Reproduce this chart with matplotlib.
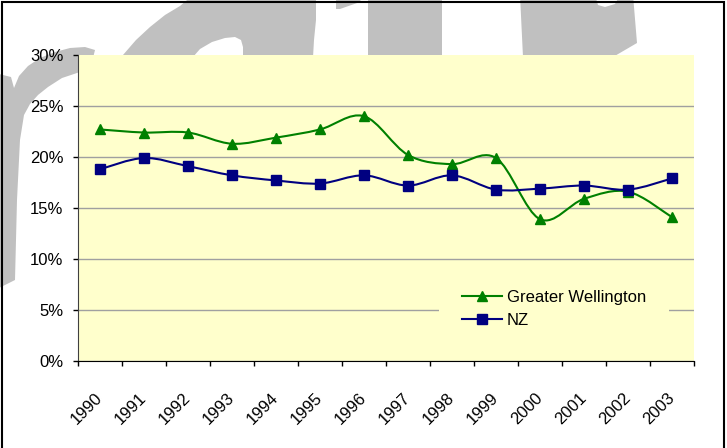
import numpy as np
import matplotlib.pyplot as plt
from matplotlib.path import Path
from matplotlib.patches import PathPatch, Polygon, Rectangle
from matplotlib.lines import Line2D
from matplotlib.transforms import ScaledTranslation

plt.rcParams['font.family'] = ['Liberation Sans', 'DejaVu Sans']

years = [str(y) for y in range(1990, 2004)]
wellington = [22.7, 22.4, 22.4, 21.3, 21.9, 22.7, 24.0, 20.2, 19.3, 19.9, 13.9, 15.9, 16.6, 14.1]
nz = [18.8, 19.9, 19.1, 18.2, 17.7, 17.4, 18.2, 17.2, 18.2, 16.8, 16.9, 17.2, 16.8, 17.9]

GREEN = '#008000'
NAVY = '#000080'
W, H = 727, 448


def smooth_path(x, y):
    # Excel-style smoothed line (Catmull-Rom as cubic Bezier segments)
    pts = np.column_stack([x, y])
    ext = np.vstack([pts[0], pts, pts[-1]])
    verts = [pts[0]]
    codes = [Path.MOVETO]
    for i in range(len(pts) - 1):
        p0, p1, p2, p3 = ext[i], ext[i + 1], ext[i + 2], ext[i + 3]
        verts += [p1 + (p2 - p0) / 6, p2 - (p3 - p1) / 6, p2]
        codes += [Path.CURVE4] * 3
    return Path(verts, codes)


def px(points):
    return [(x / W, 1 - y / H) for x, y in points]


fig = plt.figure(figsize=(W / 100, H / 100), dpi=100)

# grey watermark letters behind the chart
grey = '#C0C0C0'
shapes = [
    [(-5, 290), (15, 280), (17, 200), (20, 140), (24, 115), (30, 104), (38, 95),
     (48, 87), (62, 78), (80, 72), (92, 62), (95, 50), (85, 47), (70, 48),
     (55, 52), (40, 58), (28, 66), (19, 76), (14, 88), (11, 77), (-5, 73)],
    [(100, 75), (112, 65), (123, 55), (136, 40), (150, 27), (165, 15), (180, 6),
     (193, -5), (316, -5), (316, 20), (314, 40), (312, 75)],
    [(336, -5), (362, -5), (360, 2), (340, 9), (336, 9)],
    [(368, -5), (442, -5), (442, 60), (368, 60)],
    [(520, -5), (633, -5), (637, 43), (613, 57), (523, 57)],
]
for s in shapes:
    fig.patches.append(Polygon(px(s), closed=True, transform=fig.transFigure,
                               facecolor=grey, edgecolor='none', zorder=-1))
holes = [
    [(193, 57), (200, 49), (212, 42), (225, 38), (235, 37), (241, 40), (243, 47), (243, 57)],
    [(595, -5), (620, -5), (615, 4), (605, 7), (598, 5)],
]
for s in holes:
    fig.patches.append(Polygon(px(s), closed=True, transform=fig.transFigure,
                               facecolor='white', edgecolor='none', zorder=-1))

fig.patches.append(Rectangle((2 / W, -0.02), 722 / W, 1 - 2 / H + 0.02,
                             transform=fig.transFigure, fill=False,
                             edgecolor='black', lw=1.5, zorder=5))

ax = fig.add_axes([78 / W, 1 - 361 / H, 616 / W, 306 / H])
ax.set_facecolor('#FFFFCC')

x = np.arange(len(years)) + 0.5
ax.add_patch(PathPatch(smooth_path(x, wellington), fill=False, edgecolor=GREEN, lw=1.5, zorder=2))
ax.add_patch(PathPatch(smooth_path(x, nz), fill=False, edgecolor=NAVY, lw=1.5, zorder=2))
ax.plot(x, wellington, ls='none', marker='^', ms=7.5, color=GREEN, zorder=3)
ax.plot(x, nz, ls='none', marker='s', ms=6.5, color=NAVY, zorder=3)

ax.set_xlim(0, len(years))
ax.set_ylim(0, 30)
ax.set_yticks(range(0, 31, 5))
ax.yaxis.set_major_formatter(lambda v, p: f"{v:.0f}%")
ax.grid(axis='y', color='#A0A0A0', lw=1)
ax.get_ygridlines()[-1].set_visible(False)
ax.set_axisbelow(True)

ax.set_xticks(np.arange(len(years) + 1))
ax.set_xticklabels([])
ax.set_xticks(x, labels=years, minor=True)
shift = ScaledTranslation(-7 / 100, 0, fig.dpi_scale_trans)
for lab in ax.get_xticklabels(minor=True):
    lab.set_rotation(45)
    lab.set_ha('right')
    lab.set_va('center')
    lab.set_rotation_mode('anchor')
    lab.set_transform(lab.get_transform() + shift)

ax.tick_params(axis='y', length=3.6, width=1, pad=7, labelsize=12)
ax.tick_params(axis='x', which='major', length=3.6, width=1)
ax.tick_params(axis='x', which='minor', length=0, pad=25, labelsize=12)

for side in ['top', 'right']:
    ax.spines[side].set_visible(False)
ax.spines['left'].set_color('#404040')

handles = [Line2D([], [], color=GREEN, lw=1.5, marker='^', ms=7.5),
           Line2D([], [], color=NAVY, lw=1.5, marker='s', ms=6.5)]
ax.legend(handles, ['Greater Wellington', 'NZ'], loc='center',
          bbox_to_anchor=(0.773, 0.17), facecolor='#FFFFCC', edgecolor='none',
          framealpha=1, fancybox=False, handlelength=2.35, handletextpad=0.3,
          labelspacing=0.45, borderpad=1.4, fontsize=12)

fig.savefig('out.png', dpi=100)
